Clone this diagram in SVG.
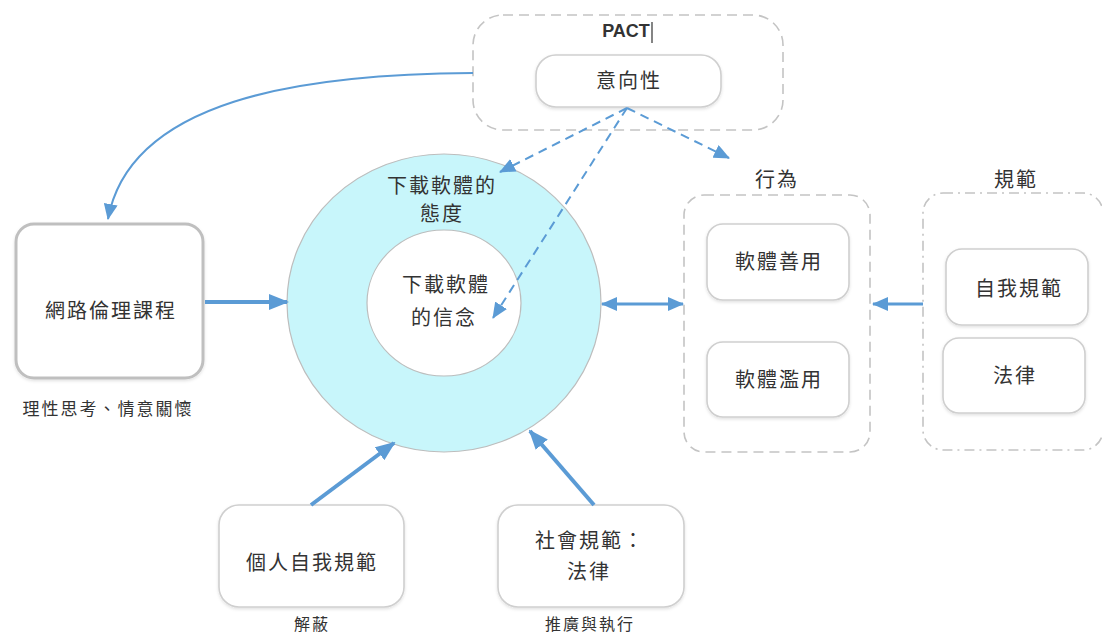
<svg xmlns="http://www.w3.org/2000/svg" width="1102" height="636" viewBox="0 0 1102 636">
<style>
text{font-family:"Noto Sans CJK TC","Noto Sans CJK SC",sans-serif;fill:#333;text-anchor:middle;}
.t20{font-size:20px;letter-spacing:2px;}
.t17{font-size:17px;letter-spacing:2px;}
.t16{font-size:16px;letter-spacing:2px;}
.box{fill:#fff;stroke:#cfcfcf;stroke-width:1.6;}
.cont{fill:none;stroke:#c4c4c4;stroke-width:1.6;stroke-dasharray:10,6;}
.dashdot{fill:none;stroke:#c4c4c4;stroke-width:1.6;stroke-dasharray:10,5,2,5;}
.thick{fill:none;stroke:#5b9bd5;stroke-width:4;}
.mid{fill:none;stroke:#5b9bd5;stroke-width:3;}
.thin{fill:none;stroke:#5b9bd5;stroke-width:2;}
.dash{fill:none;stroke:#5b9bd5;stroke-width:2;stroke-dasharray:9,6;}
</style>
<defs>
<marker id="ah" markerUnits="userSpaceOnUse" markerWidth="20" markerHeight="16" refX="18" refY="8" orient="auto-start-reverse" viewBox="0 0 20 16"><path d="M0,0 L20,8 L0,16 Z" fill="#5b9bd5"/></marker>
<marker id="ahs" markerUnits="userSpaceOnUse" markerWidth="16" markerHeight="14" refX="15" refY="7" orient="auto-start-reverse" viewBox="0 0 16 14"><path d="M0,0 L16,7 L0,14 Z" fill="#5b9bd5"/></marker>
<filter id="sh" x="-10%" y="-10%" width="120%" height="130%"><feDropShadow dx="0" dy="1.5" stdDeviation="1.5" flood-color="#000" flood-opacity="0.12"/></filter>
</defs>

<g id="pact">
<rect class="cont" x="473" y="15" width="310" height="115" rx="30"/>
<text x="626" y="37" style="font-family:'Liberation Sans',Arial,sans-serif;font-size:18px;font-weight:bold;">PACT</text>
<line x1="652" y1="22" x2="652" y2="43" stroke="#333" stroke-width="1.2"/>
</g>
<g id="intent">
<rect class="box" x="536" y="55" width="185" height="52" rx="20" filter="url(#sh)"/>
<text class="t20" x="629" y="88">意向性</text>
</g>

<g id="ring">
<ellipse cx="444" cy="303" rx="157" ry="149" fill="#c8f6fb" stroke="#bdbdbd" stroke-width="1.2"/>
<text class="t20" x="442" y="193">下載軟體的</text>
<text class="t20" x="442" y="221">態度</text>
</g>
<g id="belief">
<ellipse cx="444" cy="303" rx="77" ry="73" fill="#fff" stroke="#bdbdbd" stroke-width="1.2"/>
<text class="t20" x="446" y="292">下載軟體</text>
<text class="t20" x="444" y="325">的信念</text>
</g>

<g id="course">
<rect x="16" y="224" width="187" height="154" rx="18" fill="#fff" stroke="#bfbfbf" stroke-width="3" filter="url(#sh)"/>
<text class="t20" x="111" y="318">網路倫理課程</text>
<text class="t17" x="108" y="415">理性思考、情意關懷</text>
</g>

<g id="behavior">
<text class="t20" x="777" y="187">行為</text>
<rect class="cont" x="684" y="195" width="186" height="257" rx="20"/>
</g>
<g id="gooduse">
<rect class="box" x="707" y="224" width="142" height="76" rx="16" filter="url(#sh)"/>
<text class="t20" x="779" y="269">軟體善用</text>
</g>
<g id="misuse">
<rect class="box" x="707" y="342" width="142" height="75" rx="16" filter="url(#sh)"/>
<text class="t20" x="779" y="387">軟體濫用</text>
</g>

<g id="norms">
<text class="t20" x="1016" y="187">規範</text>
<rect class="dashdot" x="923" y="193" width="180" height="257" rx="20"/>
</g>
<g id="selfnorm">
<rect class="box" x="946" y="249" width="142" height="76" rx="16" filter="url(#sh)"/>
<text class="t20" x="1019" y="296">自我規範</text>
</g>
<g id="law">
<rect class="box" x="943" y="338" width="142" height="75" rx="16" filter="url(#sh)"/>
<text class="t20" x="1015" y="383">法律</text>
</g>

<g id="personal">
<rect class="box" x="219" y="505" width="185" height="102" rx="20" filter="url(#sh)"/>
<text class="t20" x="312" y="570">個人自我規範</text>
<text class="t16" x="312" y="630">解蔽</text>
</g>
<g id="social">
<rect class="box" x="498" y="505" width="186" height="102" rx="20" filter="url(#sh)"/>
<text class="t20" x="590" y="548">社會規範：</text>
<text class="t20" x="589" y="579">法律</text>
<text class="t16" x="590" y="630">推廣與執行</text>
</g>

<g id="connectors">
<path class="thin" d="M473,73 C300,74 130,100 108,219" marker-end="url(#ahs)"/>
<line class="thick" x1="205" y1="302" x2="287" y2="302" marker-end="url(#ah)"/>
<line class="mid" x1="602" y1="304" x2="683" y2="304" marker-start="url(#ahs)" marker-end="url(#ahs)"/>
<line class="mid" x1="923" y1="304" x2="873" y2="304" marker-end="url(#ahs)"/>
<line class="dash" x1="627" y1="108" x2="500" y2="172" marker-end="url(#ahs)"/>
<line class="dash" x1="627" y1="108" x2="493" y2="318" marker-end="url(#ahs)"/>
<line class="dash" x1="627" y1="108" x2="729" y2="158" marker-end="url(#ahs)"/>
<line class="thick" x1="311" y1="505" x2="394" y2="443" marker-end="url(#ah)"/>
<line class="thick" x1="594" y1="505" x2="530" y2="431" marker-end="url(#ah)"/>
</g>
</svg>
